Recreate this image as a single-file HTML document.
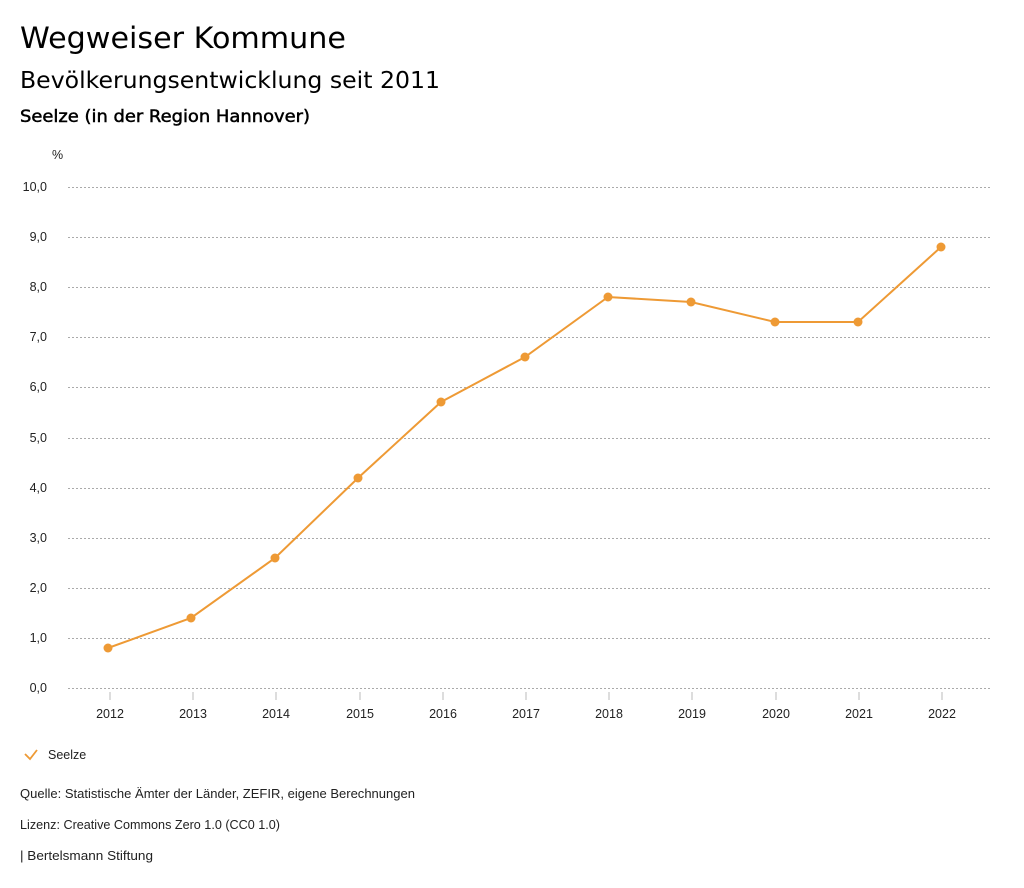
<!DOCTYPE html>
<html><head><meta charset="utf-8"><style>
body{margin:0;background:#fff;}
svg{display:block;}
</style></head><body>
<svg width="1024" height="888" xmlns="http://www.w3.org/2000/svg">
<g font-family="DejaVu Sans, sans-serif" fill="#000">
<text x="20" y="48" font-size="29" textLength="326" lengthAdjust="spacingAndGlyphs">Wegweiser Kommune</text>
<text x="20" y="88" font-size="23" textLength="420" lengthAdjust="spacingAndGlyphs">Bevölkerungsentwicklung seit 2011</text>
<text x="20" y="122" font-size="17" stroke="#000" stroke-width="0.5" textLength="290" lengthAdjust="spacingAndGlyphs">Seelze (in der Region Hannover)</text>
</g>
<g font-family="Liberation Sans, sans-serif" font-size="12.5" fill="#222">
<text x="52" y="159">%</text>
<g text-anchor="end">
<text x="47" y="191">10,0</text><text x="47" y="241">9,0</text><text x="47" y="291">8,0</text>
<text x="47" y="341">7,0</text><text x="47" y="391">6,0</text><text x="47" y="442">5,0</text>
<text x="47" y="492">4,0</text><text x="47" y="542">3,0</text><text x="47" y="592">2,0</text>
<text x="47" y="642">1,0</text><text x="47" y="692">0,0</text>
</g>
<g stroke="#aaa" stroke-width="1" stroke-dasharray="2,2">
<line x1="68" x2="990" y1="187.5" y2="187.5"/><line x1="68" x2="990" y1="237.5" y2="237.5"/>
<line x1="68" x2="990" y1="287.5" y2="287.5"/><line x1="68" x2="990" y1="337.5" y2="337.5"/>
<line x1="68" x2="990" y1="387.5" y2="387.5"/><line x1="68" x2="990" y1="438.5" y2="438.5"/>
<line x1="68" x2="990" y1="488.5" y2="488.5"/><line x1="68" x2="990" y1="538.5" y2="538.5"/>
<line x1="68" x2="990" y1="588.5" y2="588.5"/><line x1="68" x2="990" y1="638.5" y2="638.5"/>
<line x1="68" x2="990" y1="688.5" y2="688.5"/>
</g>
<g stroke="#bbb">
<line x1="110" x2="110" y1="692" y2="700"/><line x1="193" x2="193" y1="692" y2="700"/>
<line x1="276" x2="276" y1="692" y2="700"/><line x1="360" x2="360" y1="692" y2="700"/>
<line x1="443" x2="443" y1="692" y2="700"/><line x1="526" x2="526" y1="692" y2="700"/>
<line x1="609" x2="609" y1="692" y2="700"/><line x1="692" x2="692" y1="692" y2="700"/>
<line x1="776" x2="776" y1="692" y2="700"/><line x1="859" x2="859" y1="692" y2="700"/>
<line x1="942" x2="942" y1="692" y2="700"/>
</g>
<g text-anchor="middle">
<text x="110" y="718">2012</text><text x="193" y="718">2013</text><text x="276" y="718">2014</text>
<text x="360" y="718">2015</text><text x="443" y="718">2016</text><text x="526" y="718">2017</text>
<text x="609" y="718">2018</text><text x="692" y="718">2019</text><text x="776" y="718">2020</text>
<text x="859" y="718">2021</text><text x="942" y="718">2022</text>
</g>
<polyline fill="none" stroke="#ee9a35" stroke-width="2" points="108,648 191,618 275,558 358,478 441,402 525,357 608,297 691,302 775,322 858,322 941,247"/>
<g fill="#ee9a35">
<circle cx="108" cy="648" r="4.5"/><circle cx="191" cy="618" r="4.5"/><circle cx="275" cy="558" r="4.5"/>
<circle cx="358" cy="478" r="4.5"/><circle cx="441" cy="402" r="4.5"/><circle cx="525" cy="357" r="4.5"/>
<circle cx="608" cy="297" r="4.5"/><circle cx="691" cy="302" r="4.5"/><circle cx="775" cy="322" r="4.5"/>
<circle cx="858" cy="322" r="4.5"/><circle cx="941" cy="247" r="4.5"/>
</g>
<polyline fill="none" stroke="#ee9a35" stroke-width="1.8" points="25,754 30,759 37,750"/>
<text x="48" y="759">Seelze</text>
<text x="20" y="798" textLength="395" lengthAdjust="spacingAndGlyphs">Quelle: Statistische Ämter der Länder, ZEFIR, eigene Berechnungen</text>
<text x="20" y="829" textLength="260" lengthAdjust="spacingAndGlyphs">Lizenz: Creative Commons Zero 1.0 (CC0 1.0)</text>
<text x="20" y="860" textLength="133" lengthAdjust="spacingAndGlyphs">| Bertelsmann Stiftung</text>
</g>
</svg>
</body></html>
